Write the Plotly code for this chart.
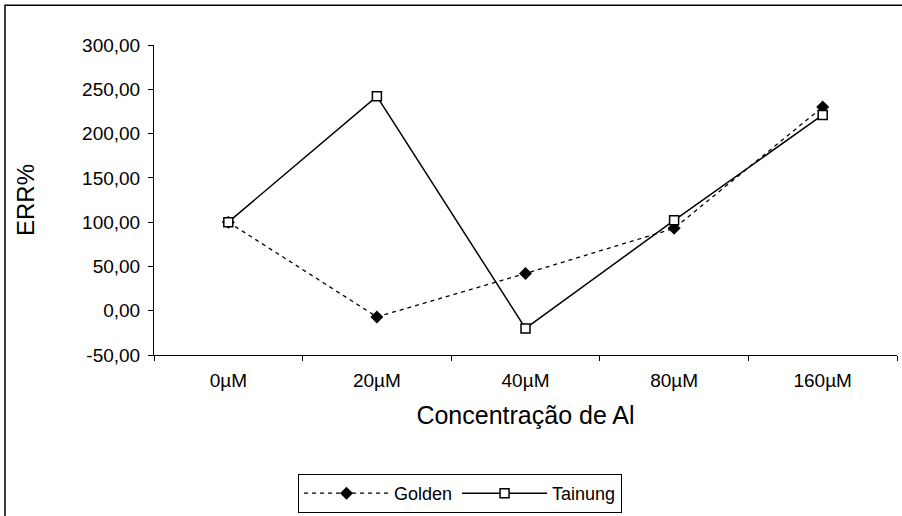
import plotly.graph_objects as go

categories = ["0µM", "20µM", "40µM", "80µM", "160µM"]
golden = [100, -7, 42, 93, 230]
tainung = [100, 242, -20, 102, 221]
y_ticks = [-50, 0, 50, 100, 150, 200, 250, 300]
y_tick_labels = ["-50,00", "0,00", "50,00", "100,00", "150,00", "200,00", "250,00", "300,00"]

fig = go.Figure()
fig.add_trace(go.Scatter(
    x=categories, y=golden, name="Golden", mode="lines+markers",
    line=dict(color="black", width=1.3, dash="4px,4px"),
    marker=dict(symbol="diamond", size=10, color="black"),
))
fig.add_trace(go.Scatter(
    x=categories, y=tainung, name="Tainung", mode="lines+markers",
    line=dict(color="black", width=1.5),
    marker=dict(symbol="square", size=9, color="white", line=dict(color="black", width=1.5)),
))

font = "Liberation Sans, Arial, sans-serif"
fig.update_layout(
    width=902, height=516,
    margin=dict(l=154, r=5, t=45, b=160),
    paper_bgcolor="white", plot_bgcolor="white",
    font=dict(family=font, color="black", size=19),
    showlegend=True,
    legend=dict(
        orientation="h", x=(298 - 154) / 743, y=(356 - 513) / 311,
        xanchor="left", yanchor="bottom",
        bordercolor="black", borderwidth=1, font=dict(size=18, family=font),
        itemwidth=85, bgcolor="white", tracegroupgap=0,
    ),
    xaxis=dict(
        type="category", range=[-0.5, 4.5],
        showline=True, linecolor="black", linewidth=1,
        ticks="outside", ticklen=5, tickcolor="black",
        tickson="boundaries", showgrid=False, zeroline=False,
        tickfont=dict(size=19), ticklabelstandoff=8,
        title=dict(text="Concentração de Al", font=dict(size=25), standoff=16),
    ),
    yaxis=dict(
        range=[-50, 300], tickvals=y_ticks, ticktext=y_tick_labels,
        showline=True, linecolor="black", linewidth=1,
        ticks="outside", ticklen=5, tickcolor="black",
        showgrid=False, zeroline=False, tickfont=dict(size=19), ticklabelstandoff=4,
        title=dict(text="ERR%", font=dict(size=24), standoff=40),
    ),
    shapes=[dict(
        type="rect", xref="paper", yref="paper",
        x0=(5 - 154) / 743, x1=1.2, y0=-1.0, y1=1 + 40 / 311,
        line=dict(color="black", width=1.5), fillcolor="rgba(0,0,0,0)", layer="below",
    )],
)

fig.write_html("out.html")
